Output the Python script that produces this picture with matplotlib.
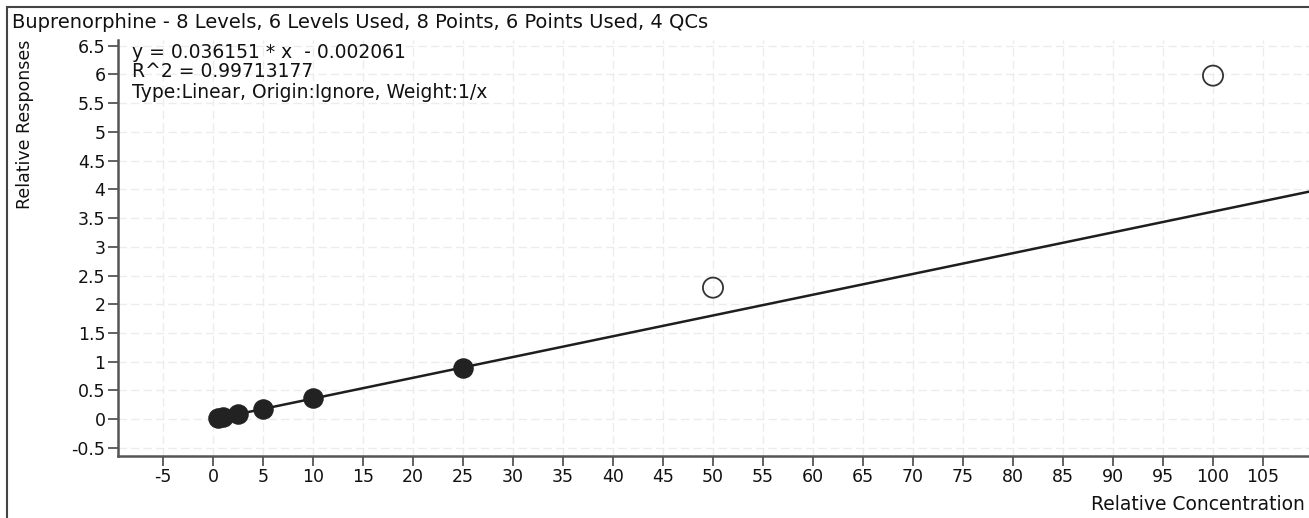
import matplotlib
matplotlib.use("Agg")
import matplotlib.pyplot as plt
from matplotlib.patches import Rectangle

# calibration points used in the fit (filled)
used_x = [0.5, 1, 2.5, 5, 10, 25]
used_y = [0.016, 0.034, 0.088, 0.17, 0.37, 0.90]

# levels excluded from the fit (open)
excl_x = [50, 100]
excl_y = [2.29, 5.98]

# regression line end points
fit_x = [0.5, 110]
fit_y = [0.016, 3.975]

xticks = list(range(-5, 110, 5))
xtick_labels = [str(v) for v in xticks]
yticks = [-0.5, 0, 0.5, 1, 1.5, 2, 2.5, 3, 3.5, 4, 4.5, 5, 5.5, 6, 6.5]
ytick_labels = ["-0.5", "0", "0.5", "1", "1.5", "2", "2.5", "3", "3.5",
                "4", "4.5", "5", "5.5", "6", "6.5"]

title = "Buprenorphine - 8 Levels, 6 Levels Used, 8 Points, 6 Points Used, 4 QCs"
info = ["y = 0.036151 * x  - 0.002061",
        "R^2 = 0.99713177",
        "Type:Linear, Origin:Ignore, Weight:1/x"]

plt.rcParams['font.family'] = ['DejaVu Sans']
plt.rcParams['axes.unicode_minus'] = False

W, H = 1309, 518
fig = plt.figure(figsize=(W / 100, H / 100), dpi=100)

# outer frame
fig.patches.append(Rectangle((7 / W, -0.01), 1.05, 1 - 7 / H + 0.01,
                             transform=fig.transFigure, fill=False,
                             edgecolor="#444444", linewidth=1.5))

ax = fig.add_axes([118 / W, 1 - 456 / H, (W - 118) / W, (456 - 40) / H])
ax.set_xlim(-9.5, 109.6)
ax.set_ylim(-0.64, 6.6)

ax.set_xticks(xticks)
ax.set_xticklabels(xtick_labels)
ax.set_yticks(yticks)
ax.set_yticklabels(ytick_labels)
ax.grid(True, color="#ececec", linestyle=(0, (6, 3)), linewidth=1)
ax.set_axisbelow(True)

for side in ["top", "right"]:
    ax.spines[side].set_visible(False)
for side in ["left", "bottom"]:
    ax.spines[side].set_color("#555555")
    ax.spines[side].set_linewidth(1.8)
ax.tick_params(direction="out", length=7, width=1.3, color="#555555",
               labelsize=12.5, pad=2, labelcolor="#111111")

ax.plot(fit_x, fit_y, color="#1e1e1e", linewidth=1.8, zorder=2)
ax.scatter(used_x, used_y, s=190, color="#222222", zorder=3)
ax.scatter(excl_x, excl_y, s=210, facecolors="none", edgecolors="#333333",
           linewidths=1.3, zorder=3)

for i, line in enumerate(info):
    fig.text(132 / W, 1 - (52 + i * 20) / H, line, fontsize=13.5,
             ha="left", va="center", color="#111111")

fig.text(12 / W, 1 - 23 / H, title, fontsize=14, ha="left", va="center",
         color="#111111")
fig.text(25 / W, 1 - 40 / H, "Relative Responses", rotation=90, fontsize=12.5,
         ha="center", va="top", color="#111111")
fig.text(1305 / W, 1 - 505 / H, "Relative Concentration", fontsize=13.5,
         ha="right", va="center", color="#111111")

fig.savefig("out.png", dpi=100)
